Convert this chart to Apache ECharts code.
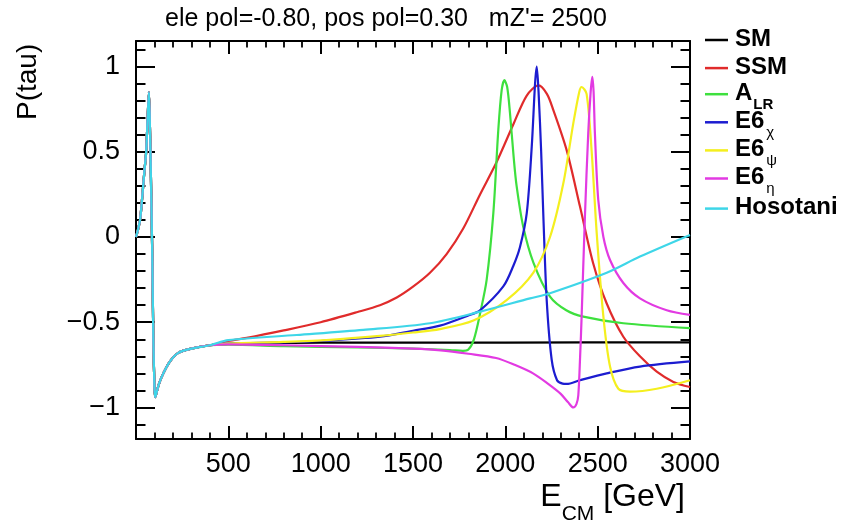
<!DOCTYPE html>
<html>
<head>
<meta charset="utf-8">
<script src="https://cdn.jsdelivr.net/npm/echarts@6/dist/echarts.min.js"></script>
<style>html,body{margin:0;padding:0;background:#fff}#c{width:841px;height:522px}</style>
</head>
<body>
<div id="c"></div>
<script>
// ---- data (E_CM in GeV, P(tau)) ----
var lowE = [[0,0],[10,0.04],[22,0.10],[35,0.25],[45,0.38],[55,0.50],[63,0.70],[70,0.85],[76,0.62],[82,0.28],[88,-0.10],[94,-0.60],[100,-0.88],[104,-0.94],[112,-0.91],[125,-0.86],[148,-0.80],[184,-0.73],[229,-0.68],[300,-0.655],[400,-0.635]];
var smData = [[500,-0.627],[700,-0.622],[1000,-0.62],[2000,-0.619],[3000,-0.618]];
var ssmData = [[500,-0.61],[600,-0.592],[800,-0.548],[1000,-0.50],[1200,-0.44],[1321,-0.40],[1412,-0.355],[1502,-0.29],[1592,-0.21],[1682,-0.10],[1772,0.05],[1863,0.25],[1953,0.44],[2043,0.66],[2116,0.83],[2180,0.89],[2225,0.84],[2260,0.745],[2332,0.51],[2404,0.18],[2476,-0.155],[2549,-0.39],[2639,-0.585],[2729,-0.70],[2820,-0.79],[2910,-0.85],[3000,-0.88]];
var alrData = [[500,-0.632],[800,-0.64],[1200,-0.648],[1500,-0.655],[1700,-0.663],[1770,-0.668],[1800,-0.66],[1830,-0.60],[1863,-0.45],[1899,-0.25],[1935,0.14],[1962,0.63],[1980,0.86],[1995,0.92],[2010,0.88],[2025,0.73],[2045,0.47],[2061,0.30],[2097,0.06],[2152,-0.15],[2242,-0.35],[2330,-0.43],[2422,-0.467],[2639,-0.506],[3000,-0.535]];
var e6chiData = [[500,-0.625],[800,-0.618],[1000,-0.61],[1321,-0.585],[1500,-0.55],[1646,-0.52],[1800,-0.46],[1863,-0.43],[1989,-0.29],[2043,-0.17],[2079,-0.06],[2116,0.14],[2143,0.53],[2161,0.90],[2170,1.0],[2180,0.85],[2194,0.5],[2206,0.12],[2224,-0.37],[2251,-0.72],[2280,-0.84],[2310,-0.86],[2332,-0.862],[2404,-0.84],[2549,-0.80],[2729,-0.76],[3000,-0.73]];
var e6psiData = [[500,-0.625],[800,-0.615],[1050,-0.603],[1321,-0.58],[1500,-0.56],[1646,-0.54],[1827,-0.49],[2007,-0.37],[2151,-0.21],[2242,0.0],[2314,0.315],[2368,0.667],[2400,0.85],[2413,0.88],[2440,0.84],[2467,0.51],[2495,0.02],[2531,-0.467],[2567,-0.76],[2612,-0.89],[2675,-0.907],[2820,-0.89],[3000,-0.84]];
var e6etaData = [[500,-0.63],[800,-0.635],[1200,-0.645],[1500,-0.655],[1650,-0.665],[1800,-0.685],[1950,-0.71],[2050,-0.75],[2150,-0.80],[2230,-0.86],[2300,-0.92],[2340,-0.97],[2368,-1.0],[2385,-0.98],[2395,-0.93],[2405,-0.7],[2413,-0.47],[2431,0.12],[2449,0.61],[2462,0.85],[2471,0.94],[2478,0.85],[2485,0.61],[2503,0.22],[2531,0.0],[2567,-0.135],[2639,-0.27],[2729,-0.36],[2874,-0.43],[3000,-0.457]];
var hosotaniData = [[500,-0.605],[870,-0.575],[1231,-0.545],[1592,-0.506],[1863,-0.438],[2134,-0.36],[2242,-0.33],[2549,-0.21],[2729,-0.115],[3000,0.012]];

var seriesNames = ['SM','SSM','A_LR','E6_chi','E6_psi','E6_eta','Hosotani'];
var seriesColors = ['#000000','#e02b2b','#3ee03e','#1c1cd0','#f4ef1e','#e23ae2','#3ed6e8'];
var seriesData = [smData, ssmData, alrData, e6chiData, e6psiData, e6etaData, hosotaniData];
var legendLabels = {
  'SM':'{b|SM}', 'SSM':'{b|SSM}', 'A_LR':'{b|A}{s|LR}',
  'E6_chi':'{b|E6}{g|χ}', 'E6_psi':'{b|E6}{g|ψ}', 'E6_eta':'{b|E6}{g|η}', 'Hosotani':'{b|Hosotani}'
};
var xTicks = {min:0, max:3000, interval:500};
var yMajor = [-1,-0.5,0,0.5,1];
var yMinor = [-1.1,-0.9,-0.8,-0.7,-0.6,-0.4,-0.3,-0.2,-0.1,0.1,0.2,0.3,0.4,0.6,0.7,0.8,0.9,1.1];
var yRange = {min:-1.185, max:1.15};
var titleText = "ele pol=-0.80, pos pol=0.30   mZ'= 2500";

var FONT = '"Liberation Sans", Arial, Helvetica, sans-serif';
var TICK = '#000000';
var chart = echarts.init(document.getElementById('c'), null, {renderer:'canvas'});

var series = seriesNames.map(function(n,i){
  return {
    name:n, type:'line', data: lowE.concat(seriesData[i]),
    showSymbol:false, smooth:0.3,
    lineStyle:{color:seriesColors[i], width:2.2}, itemStyle:{color:seriesColors[i]},
    z: 2+i, animation:false
  };
});

var legends = seriesNames.map(function(n,i){
  var hasSub = /_/.test(n);
  return {
    data:[n], left:705, top: 27 + i*28.1 - (hasSub ? 2 : 0), orient:'vertical',
    icon:'rect', itemWidth:23, itemHeight:2.5, itemGap:0,
    padding:0,
    formatter:function(name){ return legendLabels[name]; },
    textStyle:{
      fontFamily:FONT, color:'#000', padding:[0,0,0,2],
      rich:{
        b:{fontSize:24, fontWeight:'bold', fontFamily:FONT, color:'#000', lineHeight:26, verticalAlign:'top'},
        s:{fontSize:15, fontWeight:'bold', fontFamily:FONT, color:'#000', verticalAlign:'top', lineHeight:14, padding:[16,0,0,1]},
        g:{fontSize:15, fontFamily:FONT, color:'#000', verticalAlign:'top', lineHeight:14, padding:[16,0,0,2]}
      }
    },
    selectedMode:false
  };
});

var axisLineStyle = {show:true, onZero:false, lineStyle:{color:'#000', width:2}};
var hiddenLine = {show:true, onZero:false, lineStyle:{color:'rgba(0,0,0,0)', width:0}};
function yAxisDef(pos, ticks, len, labels){
  return {
    type:'value', position:pos, min:yRange.min, max:yRange.max, offset:0,
    axisLine: labels!==null ? axisLineStyle : hiddenLine,
    axisTick:{show:true, inside:true, length:len, customValues:ticks, lineStyle:{color:TICK, width:2}},
    axisLabel: labels ? {show:true, customValues:yMajor, margin:16, fontSize:27, fontFamily:FONT, color:'#000',
      formatter:function(v){ return String(v).replace('-', '\u2212'); }} : {show:false},
    splitLine:{show:false}
  };
}
function xAxisDef(pos, labels){
  return {
    type:'value', position:pos, min:xTicks.min, max:xTicks.max, interval:xTicks.interval,
    axisLine:axisLineStyle,
    axisTick:{show:true, inside:true, length:13, lineStyle:{color:TICK, width:2}},
    minorTick:{show:true, splitNumber:5, length:6.5, lineStyle:{color:TICK, width:1.8}},
    axisLabel: labels ? {show:true, margin:12, fontSize:27, fontFamily:FONT, color:'#000',
      formatter:function(v){ return v===0 ? '' : String(v); }} : {show:false},
    splitLine:{show:false}, minorSplitLine:{show:false}
  };
}

var option = {
  backgroundColor:'#fff',
  animation:false,
  title:[
    {text:titleText, left:160, top:2, textStyle:{fontFamily:FONT, fontSize:25, fontWeight:'normal', color:'#000'}},
    {text:'{e|E}{s|CM}{e| [GeV]}', right:151, top:474,
     textStyle:{fontWeight:'normal', rich:{
       e:{fontFamily:FONT, fontSize:32, fontWeight:'normal', color:'#000', lineHeight:36},
       s:{fontFamily:FONT, fontSize:21, fontWeight:'normal', color:'#000', verticalAlign:'bottom', lineHeight:16, padding:[0,0,-10,0]}
     }}}
  ],
  graphic:[{type:'text', x:14, y:120, rotation:Math.PI/2,
    style:{text:'P(tau)', font:'28px "Liberation Sans", Arial, sans-serif', fill:'#000', textAlign:'left', textVerticalAlign:'top'}}],
  legend: legends,
  grid:{left:136, right:151, top:41, bottom:83, containLabel:false},
  xAxis:[xAxisDef('bottom', true), xAxisDef('top', false)],
  yAxis:[yAxisDef('left', yMajor, 19, true), yAxisDef('left', yMinor, 9.5, null),
         yAxisDef('right', yMajor, 19, false), yAxisDef('right', yMinor, 9.5, null)],
  series: series
};
chart.setOption(option);
</script>
</body>
</html>
